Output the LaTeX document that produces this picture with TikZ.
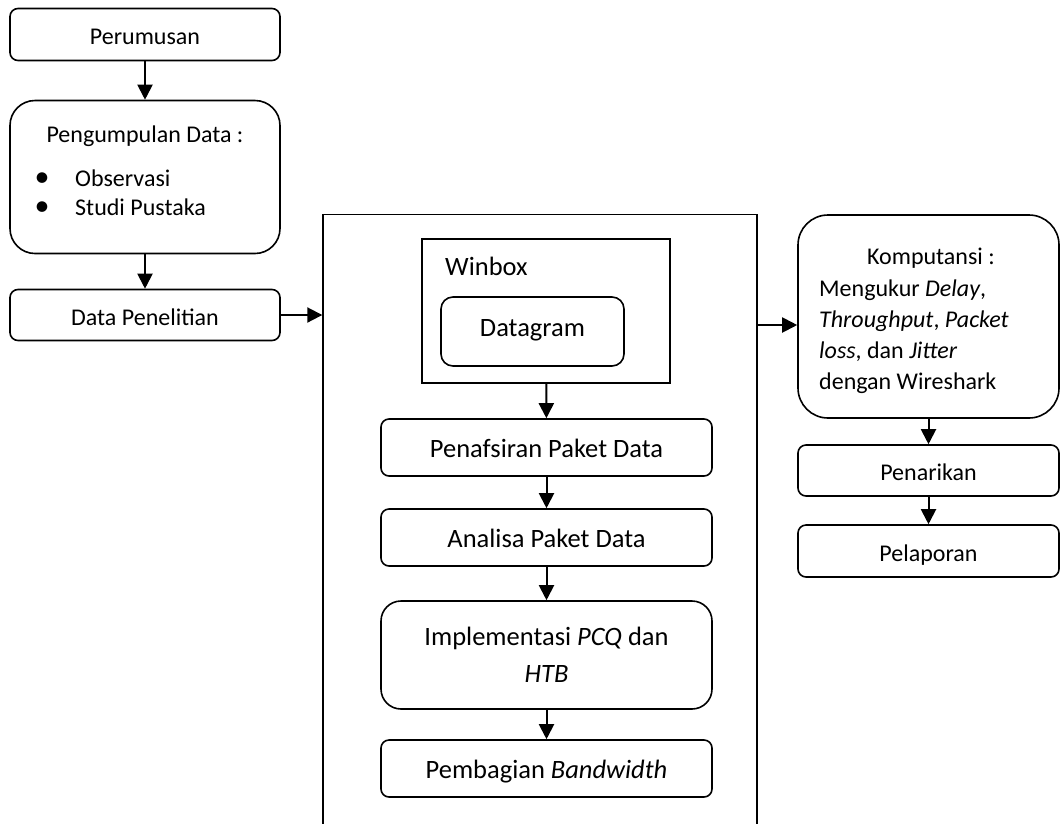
\documentclass[tikz,border=0pt]{standalone}
\usepackage{fontspec}
\setmainfont{Carlito}
\usetikzlibrary{arrows.meta}

\begin{document}
\begin{tikzpicture}[x=1pt,y=-1pt,
    stepbox/.style={draw,line width=1.6pt,rounded corners=8pt,inner sep=0pt,
        text height=20pt,text depth=0pt},
    small/.style={font=\fontsize{24}{29}\selectfont},
    big/.style={font=\fontsize{26.5}{37}\selectfont},
    frame/.style={draw,line width=1.4pt,inner sep=0pt},
    arr/.style={line width=2pt,-{Triangle[length=15pt,width=15pt]}}]
    \useasboundingbox (0,0) rectangle (1060,823);

    \node[stepbox,small,minimum width=270pt,minimum height=52pt] (rumus) at (145,34.5) {Perumusan};
    \node[stepbox,rounded corners=25pt,minimum width=270pt,minimum height=153pt] (kumpul) at (145,177) {};
    \node[small,anchor=base,inner sep=0pt] (kumpulT) at (145,142.7) {Pengumpulan Data :};
    \node[small,anchor=base west,inner sep=0pt] (obs) at (75,186.5) {Observasi};
    \node[small,anchor=base west,inner sep=0pt] (studi) at (75,215) {Studi Pustaka};
    \foreach \y in {186.5,215}
        \node[font=\fontsize{30}{30}\selectfont,anchor=base,inner sep=0pt] (dot\y) at (42,\y) {\textbullet};
    \node[stepbox,small,minimum width=270pt,minimum height=51pt] (datap) at (145,315) {Data Penelitian};

    \node[frame,minimum width=434pt,minimum height=625pt] (proses) at (540,527) {};
    \node[frame,minimum width=248pt,minimum height=144pt] (winbox) at (546,311) {};
    \node[big,anchor=base west,inner sep=0pt] (winboxT) at (445,275.7) {Winbox};
    \node[stepbox,big,rounded corners=12pt,text height=9pt,minimum width=183pt,minimum height=69pt] (datagram) at (532.5,331.5) {Datagram};
    \node[stepbox,big,minimum width=331pt,minimum height=57pt] (tafsir) at (546.5,447.5) {Penafsiran Paket Data};
    \node[stepbox,big,minimum width=331pt,minimum height=57pt] (analisa) at (546.5,537.5) {Analisa Paket Data};
    \node[stepbox,big,rounded corners=20pt,align=center,text height=,text depth=,minimum width=331pt,minimum height=108pt] (implement) at (546.5,655) {Implementasi \emph{PCQ} dan\\ \emph{HTB}};
    \node[stepbox,big,minimum width=331pt,minimum height=57pt] (bagi) at (546.5,768.5) {Pembagian \emph{Bandwidth}};

    \node[stepbox,rounded corners=30pt,minimum width=261pt,minimum height=203pt] (komp) at (928.5,316.5) {};
    \node[small,anchor=base,inner sep=0pt] (kompT) at (931,264) {Komputansi :};
    \node[small,align=left,anchor=north west,inner sep=0pt,font=\fontsize{24}{31}\selectfont] (kompisi) at (819,280)
        {Mengukur \emph{Delay},\\ \emph{Throughput}, \emph{Packet}\\ \emph{loss}, dan \emph{Jitter}\\ dengan Wireshark};
    \node[stepbox,small,minimum width=261pt,minimum height=51pt] (tarik) at (928.5,470.5) {Penarikan};
    \node[stepbox,small,minimum width=261pt,minimum height=52pt] (lapor) at (928.5,551) {Pelaporan};

    \coordinate (kompin) at ([yshift=-8.5pt]komp.west);
    \draw[arr] (rumus) -- (kumpul);
    \draw[arr] (kumpul) -- (datap);
    \draw[arr] (datap.east) -- (datap.east -| proses.west);
    \draw[arr] (winbox) -- (tafsir);
    \draw[arr] (tafsir) -- (analisa);
    \draw[arr] (analisa) -- (implement);
    \draw[arr] (implement) -- (bagi);
    \draw[arr] (proses.east |- kompin) -- (kompin);
    \draw[arr] (komp) -- (tarik);
    \draw[arr] (tarik) -- (lapor);
\end{tikzpicture}
\end{document}
